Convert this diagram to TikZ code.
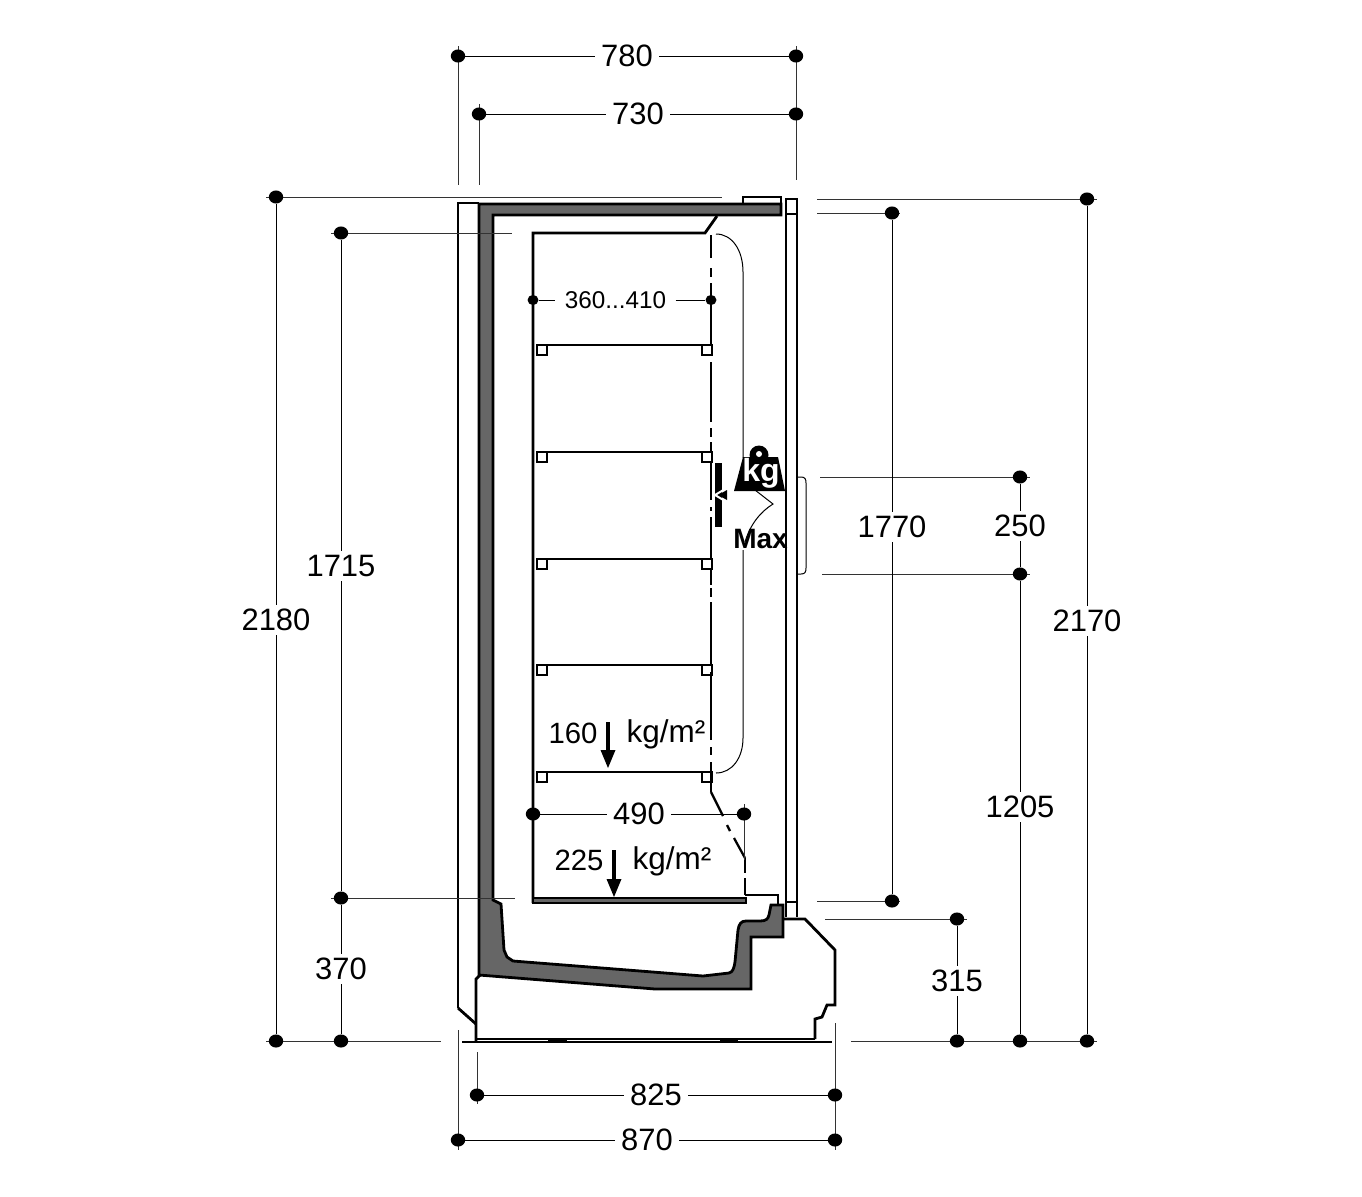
\documentclass[tikz,border=0pt]{standalone}
\usepackage{fontspec}
\setmainfont{Liberation Sans}
\usetikzlibrary{shapes.geometric}
\definecolor{insul}{HTML}{666666}
\tikzset{
  x=0.75pt,y=-0.75pt,
  heavy/.style={line width=2.1pt,line join=miter},
  mid/.style={line width=1.7pt},
  thin line/.style={line width=0.75pt},
  hair/.style={line width=0.6pt,black!80},
  dot/.style={ellipse,fill=black,inner sep=0pt,minimum width=10.8pt,minimum height=9.8pt},
  smalldot/.style={ellipse,fill=black,inner sep=0pt,minimum width=8.2pt,minimum height=7.6pt},
  dimlabel/.style={inner xsep=4.5pt,inner ysep=3pt,font=\fontsize{23.2}{23.2}\selectfont},
  tinylabel/.style={inner xsep=7pt,inner ysep=1pt,font=\fontsize{18.2}{18.2}\selectfont},
  loadlabel/.style={inner sep=0pt,font=\fontsize{22}{22}\selectfont},
  unitlabel/.style={inner sep=0pt,font=\fontsize{23.6}{23.6}\selectfont},
  dimline/.style={line width=0.75pt},
  loadarrow/.style={line width=3pt},
  lug/.style={draw=black,line width=1.5pt,fill=white},
}
\begin{document}
\begin{tikzpicture}
\useasboundingbox (0,0) rectangle (1362,1196);
% ---- cabinet ----
\draw[heavy] (458,1008) -- (458,203) -- (479,203);
\draw[heavy] (458,1008) -- (476,1024);
% insulation
\draw[heavy,fill=insul] (479,204) -- (781,204) -- (781,215) -- (493,215) -- (493,900) -- (501,904)
  -- (504,950) -- (507,957) -- (513,961) -- (640,971) -- (703,976) -- (729,973) .. controls (733,972) and (734,968) .. (735,962)
  -- (738,930) .. controls (739,924) and (741,921) .. (746,921) -- (760,921) .. controls (766,921) and (768,919) .. (769,915)
  -- (771,905) -- (783,905) -- (783,937) -- (751,937) -- (751,989) -- (655,989) -- (479,975) -- cycle;
\draw[mid] (743,204) -- (743,197) -- (781,197) -- (781,204);
% door
\draw[heavy] (786,917) -- (786,199) -- (797,199) -- (797,917);
\draw[mid] (786,214) -- (797,214) (786,902) -- (797,902);
% base
\draw[heavy] (480,975) -- (476,979) -- (476,1041);
\draw[heavy] (783,919) -- (805,919) -- (835,950) -- (835,1005) -- (827,1005) -- (822,1017) -- (815,1019) -- (815,1039);
\draw[mid] (476,1039) -- (815,1039);
\draw[mid] (462,1042) -- (832,1042);
\draw[line width=3.2pt] (548,1040.5) -- (567,1040.5) (720,1040.5) -- (738,1040.5);
% liner
\draw[heavy] (533,903) -- (533,233) -- (705,233) -- (717,216);
\draw[heavy,fill=insul] (533,898) rectangle (746,903);
\draw[mid] (745,895) -- (778,895) -- (778,904);
% shelves
\foreach \y in {345,452,559,665,772}{
  \draw[heavy] (536,\y) -- (711,\y);
  \draw[lug] (537,\y) rectangle (547,\y+10);
  \draw[lug] (702,\y) rectangle (712,\y+10);
}
% shelf front line, broken
\foreach \a/\b in {235/258,268/277,283/345,362/422,428/437,442/452,462/500,507/511,517/558,570/585,588/597,602/665,672/740,747/755,762/792}{
  \draw[mid] (711,\a) -- (711,\b);
}
\draw[mid] (711,792) -- (723,816) (727,825) -- (730,831) (734,838) -- (745,858);
\draw[mid] (745,858) -- (745,873) (745,878) -- (745,895);
% loading limit outline
\draw[thin line] (716,234) .. controls (732,234) and (743,250) .. (743,272) -- (743,458);
\draw[thin line] (743,550) -- (743,738) .. controls (743,758) and (732,773) .. (716,773);
\draw[thin line] (755,490) -- (773,504) .. controls (760,512) and (750,525) .. (745,542);
% handle
\draw[thin line] (798,477) -- (801,477) .. controls (805,477) and (806,479) .. (806,483) -- (806,568) .. controls (806,572) and (805,574) .. (801,574) -- (798,574);
% weight icon
\fill (743,457) -- (778,457) -- (785,491) -- (734,491) -- cycle;
\fill (759,455) circle[radius=9.5];
\fill[white] (759,454) circle[radius=3];
\fill (715,463) rectangle (722,527);
\fill (727,490) -- (727,500) -- (718,495) -- cycle;
\draw[white,line width=1.5pt] (725,489) -- (715,495) -- (725,501);
\node[inner sep=0pt,text=white,font=\bfseries\fontsize{24}{24}\selectfont] (kglabel) at (761,473) {kg};
\node[inner sep=0pt,font=\bfseries\fontsize{21}{21}\selectfont] (maxlabel) at (760.5,539) {Max};
% ---- load labels ----
\node[loadlabel] (l160) at (573,733) {160};
\node[unitlabel] (u160) at (666,734) {kg/m²};
\node[loadlabel] (l225) at (579,860) {225};
\node[unitlabel] (u225) at (672,861) {kg/m²};
\coordinate (a1s) at (608,722); \coordinate (a1e) at (608,750);
\coordinate (a2s) at (614,850); \coordinate (a2e) at (614,879);
\draw[loadarrow] (a1s) -- (a1e);
\fill (600.5,750) -- (615.5,750) -- (608,768) -- cycle;
\draw[loadarrow] (a2s) -- (a2e);
\fill (606.5,879) -- (621.5,879) -- (614,897) -- cycle;
% ---- extension lines ----
\begin{scope}[hair]
\draw (458,46) -- (458,185);
\draw (796,46) -- (796,180);
\draw (479,104) -- (479,185);
\draw (266,197) -- (722,197);
\draw (266,1041) -- (441,1041);
\draw (331,233) -- (512,233);
\draw (331,898) -- (515,898);
\draw (817,199) -- (1097,199);
\draw (851,1041) -- (1097,1041);
\draw (817,213) -- (900,213);
\draw (817,901) -- (900,901);
\draw (820,477) -- (1030,477);
\draw (822,574) -- (1030,574);
\draw (825,919) -- (967,919);
\draw (458,1030) -- (458,1150);
\draw (477,1052) -- (477,1104);
\draw (835,1023) -- (835,1150);
\draw (744,804) -- (744,860);
\end{scope}
% ---- dimensions ----
\foreach \n/\x/\y in {a/458/56,b/796/56,c/479/114,d/796/114,
  e/276/197,f/276/1041,g/341/233,h/341/898,i/341/1041,
  j/1087/199,k/1087/1041,m/892/213,n/892/901,
  o/1020/477,p/1020/574,q/1020/1041,r/957/919,s/957/1041,
  t/477/1095,u/835/1095,v/458/1140,w/835/1140,x/533/814,z/744/814}{
  \node[dot] (\n) at (\x,\y) {};
}
\node[smalldot] (sa) at (533,300) {};
\node[smalldot] (sb) at (711,300) {};
\foreach \n/\x/\y/\t in {d780/627/56/780,d730/638/114/730,d2180/276/620/2180,d1715/341/566/1715,
  d370/341/969/370,d2170/1087/621/2170,d1770/892/527/1770,d250/1020/526/250,d1205/1020/807/1205,
  d315/957/981/315,d825/656/1095/825,d870/647/1140/870,d490/639/814/490}{
  \node[dimlabel] (\n) at (\x,\y) {\raisebox{-0.6pt}{\t}};
}
\node[tinylabel] (d360) at (615.5,300) {\raisebox{-0.6pt}{360...410}};
\draw[dimline] (a) -- (d780) -- (b);
\draw[dimline] (c) -- (d730) -- (d);
\draw[dimline] (e) -- (d2180) -- (f);
\draw[dimline] (g) -- (d1715) -- (h);
\draw[dimline] (h) -- (d370) -- (i);
\draw[dimline] (j) -- (d2170) -- (k);
\draw[dimline] (m) -- (d1770) -- (n);
\draw[dimline] (o) -- (d250) -- (p);
\draw[dimline] (p) -- (d1205) -- (q);
\draw[dimline] (r) -- (d315) -- (s);
\draw[dimline] (t) -- (d825) -- (u);
\draw[dimline] (v) -- (d870) -- (w);
\draw[dimline] (x) -- (d490) -- (z);
\draw[dimline] (sa) -- (d360) -- (sb);
\end{tikzpicture}
\end{document}
